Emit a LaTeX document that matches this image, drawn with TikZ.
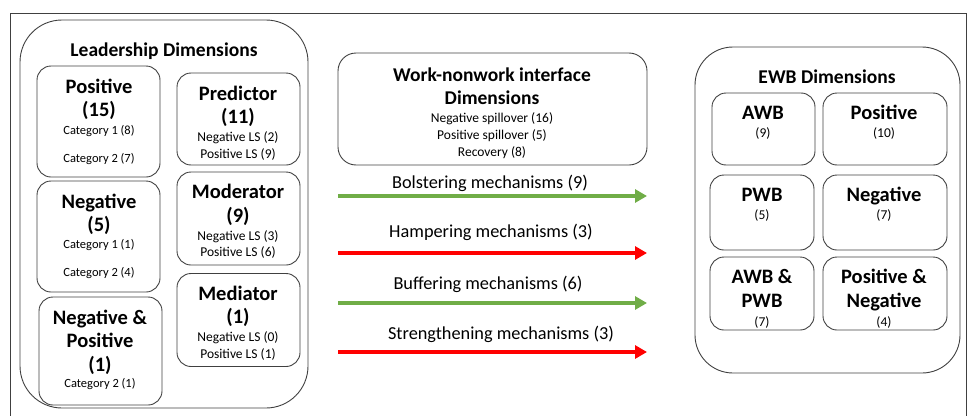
\documentclass[tikz,border=0pt]{standalone}
\usepackage{fontspec}
\setmainfont{Carlito}
\usetikzlibrary{arrows.meta}
\definecolor{linegray}{HTML}{404040}
\definecolor{mechgreen}{HTML}{70AD47}
\definecolor{mechred}{HTML}{FF0000}

\begin{document}
\begin{tikzpicture}[x=1pt,y=-1pt,
    bigbox/.style={draw=linegray, line width=0.9pt, rounded corners=42pt, inner sep=0pt, outer sep=0pt},
    box/.style={draw=linegray, line width=0.9pt, rounded corners=14pt, inner sep=0pt, outer sep=0pt},
    title/.style={font=\bfseries\fontsize{19.5}{22}\selectfont, inner sep=0pt, text height=12.5pt, text depth=0pt},
    head/.style={font=\bfseries\fontsize{20.5}{23}\selectfont, inner sep=0pt, text height=13pt, text depth=0pt},
    sub/.style={font=\fontsize{13.5}{15}\selectfont, inner sep=0pt, text height=8.7pt, text depth=0pt},
    small/.style={font=\fontsize{12.5}{14}\selectfont, inner sep=0pt, text height=8pt, text depth=0pt},
    tiny/.style={font=\fontsize{13.5}{15}\selectfont, inner sep=0pt, text height=8.7pt, text depth=0pt},
    mech/.style={font=\fontsize{18.3}{21}\selectfont, inner sep=0pt, text height=11.8pt, text depth=0pt},
    greenarrow/.style={draw=mechgreen, line width=3.5pt, -{Triangle[length=12pt,width=13pt]}},
    redarrow/.style={draw=mechred, line width=3.5pt, -{Triangle[length=12pt,width=13pt]}}]
%
  \clip (0,0) rectangle (968,415);
  \useasboundingbox (0,0) rectangle (968,415);
  \draw [linegray, line width=0.9pt] (10,13) rectangle (966,440);

  % leadership
  \node [bigbox, minimum width=288pt, minimum height=388pt] (lead) at (164,214) {};
  \node [title] (leadT) at (164,50) {Leadership Dimensions};

  \node [box, minimum width=123pt, minimum height=111pt] (pos) at (98.5,121.5) {};
  \node [head] (pos1) at (99,87)  {Positive};
  \node [head] (pos2) at (99,110) {(15)};
  \node [small] (pos3) at (99,130) {Category 1 (8)};
  \node [small] (pos4) at (99,158) {Category 2 (7)};

  \node [box, minimum width=123pt, minimum height=111pt] (neg) at (98.5,236.5) {};
  \node [head] (neg1) at (99,202) {Negative};
  \node [head] (neg2) at (99,225) {(5)};
  \node [small] (neg3) at (99,244) {Category 1 (1)};
  \node [small] (neg4) at (99,272) {Category 2 (4)};

  \node [box, minimum width=123pt, minimum height=108pt] (negpos) at (100.5,351) {};
  \node [head] (negpos1) at (100,318) {Negative \&};
  \node [head] (negpos2) at (100,341) {Positive};
  \node [head] (negpos3) at (100,365) {(1)};
  \node [small] (negpos4) at (100,383) {Category 2 (1)};

  \node [box, minimum width=123pt, minimum height=92pt] (pred) at (238.5,119) {};
  \node [head] (pred1) at (238,94)  {Predictor};
  \node [head] (pred2) at (238,117) {(11)};
  \node [sub] (pred3) at (238,137) {Negative LS (2)};
  \node [sub] (pred4) at (238,154) {Positive LS (9)};

  \node [box, minimum width=123pt, minimum height=93pt] (mod) at (238.5,218.5) {};
  \node [head] (mod1) at (238,192) {Moderator};
  \node [head] (mod2) at (238,216) {(9)};
  \node [sub] (mod3) at (238,236) {Negative LS (3)};
  \node [sub] (mod4) at (238,252) {Positive LS (6)};

  \node [box, minimum width=123pt, minimum height=93pt] (med) at (238.5,320) {};
  \node [head] (med1) at (238,294) {Mediator};
  \node [head] (med2) at (238,317) {(1)};
  \node [sub] (med3) at (238,337) {Negative LS (0)};
  \node [sub] (med4) at (238,354) {Positive LS (1)};

  % work-nonwork interface
  \node [box, rounded corners=18pt, minimum width=309pt, minimum height=112pt] (wnw) at (492.5,109) {};
  \node [title] (wnw1) at (492,75) {Work-nonwork interface};
  \node [title] (wnw2) at (492,98) {Dimensions};
  \node [sub] (wnw3) at (492,118) {Negative spillover (16)};
  \node [sub] (wnw4) at (492,135) {Positive spillover (5)};
  \node [sub] (wnw5) at (492,152) {Recovery (8)};

  \coordinate (bolsA) at (338,196);  \coordinate (bolsB) at (647,196);
  \coordinate (hampA) at (338,253);  \coordinate (hampB) at (647,253);
  \coordinate (buffA) at (338,303);  \coordinate (buffB) at (647,303);
  \coordinate (strA)  at (338,352);  \coordinate (strB)  at (647,352);

  \draw [greenarrow] (bolsA) -- (bolsB);
  \draw [redarrow]   (hampA) -- (hampB);
  \draw [greenarrow] (buffA) -- (buffB);
  \draw [redarrow]   (strA)  -- (strB);

  \node [mech] (bolsT) at (490,183) {Bolstering mechanisms (9)};
  \node [mech] (hampT) at (491,232) {Hampering mechanisms (3)};
  \node [mech] (buffT) at (488,284) {Buffering mechanisms (6)};
  \node [mech] (strT)  at (501,334) {Strengthening mechanisms (3)};

  % ewb
  \node [bigbox, rounded corners=38pt, minimum width=265pt, minimum height=326pt] (ewb) at (827.5,210) {};
  \node [title] (ewbT) at (827,77) {EWB Dimensions};

  \node [box, minimum width=103pt, minimum height=72pt] (awb) at (763.5,129) {};
  \node [head] (awb1) at (763,113) {AWB};
  \node [tiny] (awb2) at (763,133) {(9)};

  \node [box, minimum width=124pt, minimum height=72pt] (epos) at (885,129) {};
  \node [head] (epos1) at (884,113) {Positive};
  \node [tiny] (epos2) at (884,133) {(10)};

  \node [box, minimum width=104pt, minimum height=75pt] (pwb) at (762,212.5) {};
  \node [head] (pwb1) at (762,195) {PWB};
  \node [tiny] (pwb2) at (762,215) {(5)};

  \node [box, minimum width=124pt, minimum height=75pt] (eneg) at (885,212.5) {};
  \node [head] (eneg1) at (884,195) {Negative};
  \node [tiny] (eneg2) at (884,215) {(7)};

  \node [box, minimum width=104pt, minimum height=73pt] (awbpwb) at (762,293.5) {};
  \node [head] (awbpwb1) at (762,277) {AWB \&};
  \node [head] (awbpwb2) at (762,301) {PWB};
  \node [tiny] (awbpwb3) at (762,322) {(7)};

  \node [box, minimum width=124pt, minimum height=73pt] (posneg) at (885,293.5) {};
  \node [head] (posneg1) at (884,277) {Positive \&};
  \node [head] (posneg2) at (884,301) {Negative};
  \node [tiny] (posneg3) at (884,322) {(4)};

\end{tikzpicture}
\end{document}
